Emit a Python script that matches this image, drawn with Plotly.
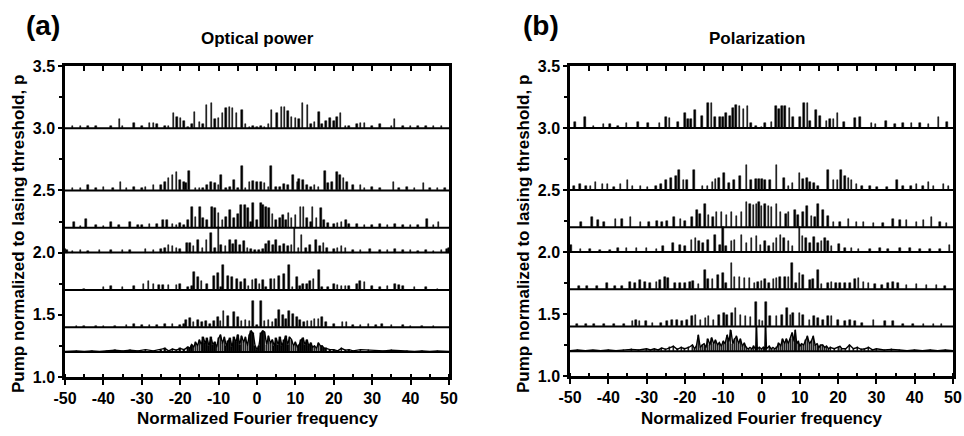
import plotly.graph_objects as go

# ---------------- data (frequency, height above baseline) ----------------
BASE_A = [1.2, 1.4, 1.7, 2.0, 2.2, 2.5, 3.0]
BASE_B = [1.2, 1.4, 1.7, 2.0, 2.2, 2.5, 3.0]

A7 = [(-48,.02),(-46,.015),(-44,.02),(-42,.015),(-38,.02),(-35.8,.07),(-35,.02),(-32,.04),(-30,.015),(-28,.04),
      (-27,.04),(-26,.03),(-24,.015),(-23,.02),(-21.7,.125),(-20.8,.09),(-19.9,.08),(-19,.06),(-18,.01),(-17,.03),
      (-16.3,.13),(-15,.05),(-14,.03),(-13.2,.19),(-11.9,.2),(-11,.07),(-10,.08),(-9,.12),(-8,.16),(-7.2,.17),
      (-6.4,.165),(-5.3,.12),(-3.9,.15),(-3,.03),(-2,.01),(-1,.02),(0,.01),(1,.02),(2,.01),(3,.03),(3.8,.15),
      (5.2,.12),(6.4,.17),(7.2,.17),(8,.14),(9,.09),(10,.08),(11,.07),(11.8,.2),(13.1,.19),(14,.03),(15,.05),
      (16.2,.13),(17,.03),(18,.06),(19,.08),(20,.06),(20.8,.09),(21.7,.125),(23,.02),(24,.015),(26,.03),(27,.04),
      (28,.04),(30,.015),(32,.03),(35,.02),(35.8,.07),(38,.02),(40,.015),(42,.015),(44,.02),(46,.015),(48,.02)]

A6 = [(-48,.02),(-46,.02),(-44,.045),(-42,.02),(-40,.03),(-37.5,.02),(-35.5,.07),(-34,.02),(-32,.03),(-30,.02),
      (-29,.03),(-27,.04),(-25,.04),(-24,.07),(-23,.1),(-22,.12),(-21,.15),(-20,.08),(-19,.07),(-18.5,.06),
      (-17.7,.157),(-16,.02),(-15,.02),(-14,.02),(-13,.04),(-12,.07),(-11,.06),(-10,.04),(-9.3,.12),(-8,.02),
      (-7,.03),(-6,.085),(-5,.02),(-3.9,.2),(-3,.02),(-2,.07),(-1,.075),(0,.07),(1,.07),(2,.06),(3,.03),(3.7,.2),
      (5,.03),(6,.03),(7,.05),(8,.04),(9.35,.12),(10.5,.07),(11,.09),(12,.08),(13,.04),(14,.03),(15,.04),(16,.03),
      (17.7,.16),(18.5,.06),(19.5,.07),(20.8,.15),(21.6,.12),(22.5,.1),(23.5,.07),(25,.04),(27,.04),(28,.02),
      (30,.03),(32,.02),(35.5,.07),(37,.02),(39,.03),(41,.02),(43.4,.06),(45,.02),(47,.02),(49,.02)]

A5 = [(-47.6,.05),(-46,.01),(-44.5,.07),(-42,.02),(-40,.01),(-38,.05),(-36,.02),(-33,.05),(-31,.02),(-30,.02),
      (-28,.03),(-26,.03),(-24.5,.065),(-23.5,.06),(-22,.03),(-21,.02),(-20,.04),(-19,.02),(-18,.065),(-16.9,.165),
      (-16,.09),(-14.9,.17),(-14,.08),(-13,.06),(-11.7,.17),(-10.9,.16),(-10,.12),(-9,.06),(-8,.09),(-7.1,.14),
      (-6,.08),(-5,.11),(-4.1,.185),(-3.2,.18),(-2.3,.16),(-1.6,.05),(-1,.195),(0,.06),(1,.195),(1.6,.18),(2.3,.17),
      (3.1,.16),(4,.11),(5,.06),(6,.08),(6.7,.1),(7.5,.06),(8.2,.12),(9,.08),(10,.1),(11.3,.165),(12.1,.17),(13,.08),
      (14,.05),(14.5,.17),(15.5,.08),(16.7,.16),(17.5,.06),(18.5,.04),(20,.03),(21,.04),(22,.05),(23.2,.065),(24,.03),
      (26,.03),(28,.02),(30,.02),(32,.03),(34,.02),(36,.03),(38,.02),(40,.02),(42,.02),(44.2,.07),(46,.02),(47.3,.05)]

A4 = [(-50,.03),(-49.5,.02),(-48,.01),(-46,.02),(-44,.01),(-41,.02),(-38,.02),(-35,.02),(-33,.02),(-29,.03),
      (-27,.02),(-25,.03),(-24,.04),(-23,.065),(-22,.05),(-21,.04),(-20,.03),(-18.3,.08),(-17.4,.08),(-16.5,.05),
      (-15.3,.1),(-14.2,.04),(-13.2,.105),(-12,.155),(-11,.04),(-10,.205),(-9.3,.06),(-8.2,.05),(-7.1,.1),(-6.2,.07),
      (-5.5,.105),(-4.5,.06),(-3.4,.09),(-2.5,.04),(-1.5,.03),(-0.5,.02),(0.5,.02),(1.5,.03),(2.3,.07),(3.2,.09),
      (4.2,.06),(5,.1),(6,.05),(7,.07),(8,.05),(9,.06),(9.8,.2),(10.8,.04),(11.6,.14),(12.8,.04),(13.8,.06),(15.4,.1),
      (16.4,.05),(17.3,.08),(18.3,.04),(20,.03),(21,.04),(22,.05),(23,.04),(25,.02),(27,.02),(29.4,.03),(32,.02),
      (34,.02),(36,.03),(38,.02),(40,.02),(42,.01),(44,.02),(46,.01),(48,.02),(49.5,.03),(50,.04)]

A3 = [(-45,.01),(-40,.02),(-38,.03),(-35,.02),(-32,.03),(-29.6,.045),(-28.3,.07),(-27,.05),(-25.5,.04),(-24.5,.04),
      (-23,.04),(-21,.04),(-20,.05),(-18,.02),(-17,.03),(-16.4,.145),(-15.4,.1),(-14.5,.07),(-13,.05),(-11.2,.11),
      (-10.1,.14),(-9.3,.02),(-8.8,.2),(-7.6,.11),(-6.5,.1),(-5.2,.09),(-4.2,.06),(-3.2,.09),(-2.2,.03),(-1.2,.08),
      (-0.3,.09),(0.6,.05),(1.5,.08),(2.4,.02),(3.6,.09),(4.6,.09),(5.8,.11),(7,.13),(8.3,.2),(9.2,.02),(10.4,.1),
      (11.2,.03),(12,.05),(13,.05),(13.8,.07),(14.7,.09),(16.1,.16),(17,.02),(18.5,.02),(20,.05),(21,.04),(22,.03),
      (23,.03),(24,.03),(26,.05),(26.8,.07),(28,.06),(30,.03),(32,.02),(34,.03),(36,.05),(37,.04),(38,.03),(41,.02),
      (44,.02),(47,.01)]

A2 = [(-47,.01),(-45,.01),(-42,.01),(-40,.01),(-37,.01),(-34,.02),(-32,.03),(-30,.02),(-28,.02),(-26,.02),
      (-24,.03),(-22,.03),(-20,.02),(-19,.03),(-18.5,.055),(-17.5,.075),(-16.5,.04),(-15.3,.06),(-14.3,.04),
      (-13.3,.05),(-12.3,.03),(-11.2,.05),(-10.2,.085),(-9.5,.05),(-8.7,.13),(-7.6,.09),(-6,.125),(-5,.08),(-4,.05),
      (-3,.06),(-2,.05),(-1.1,.21),(0,.02),(1.1,.21),(2,.05),(3,.06),(4,.04),(5,.07),(5.7,.14),(6.8,.1),(7.6,.07),
      (8.3,.13),(9.3,.11),(10.4,.08),(11.2,.06),(12.2,.04),(13.2,.05),(14.2,.05),(15,.07),(16,.07),(17,.08),(18,.04),
      (20,.03),(22.3,.04),(23.3,.04),(25,.02),(27,.02),(29,.03),(31,.02),(32.5,.03),(35,.02),(38,.02),(40,.01),
      (43,.01),(46,.01)]

A1 = [(-50,.005),(-47,.01),(-45,.005),(-43,.01),(-41,.005),(-39,.01),(-37,.015),(-35,.01),(-33,.015),(-31,.01),
      (-29,.02),(-27,.01),(-25,.02),(-24,.03),(-23,.01),(-22,.025),(-21,.015),(-20,.03),(-19,.02),(-18,.04),
      (-17.5,.03),(-17,.06),(-16.5,.04),(-16,.08),(-15.5,.05),(-15,.1),(-14.5,.06),(-14,.12),(-13.5,.07),(-13,.11),
      (-12.5,.05),(-12,.12),(-11.5,.06),(-11,.08),(-10.5,.04),(-10,.11),(-9.5,.14),(-9,.07),(-8.5,.12),(-8,.05),
      (-7.5,.09),(-7,.11),(-6.5,.04),(-6,.12),(-5.5,.08),(-5,.14),(-4.5,.06),(-4,.13),(-3.5,.08),(-3,.12),(-2.5,.05),
      (-2,.14),(-1.5,.17),(-1,.15),(-0.5,.05),(0,.02),(0.5,.05),(1,.15),(1.5,.17),(2,.16),(2.5,.06),(3,.13),(3.5,.07),
      (4,.1),(4.5,.05),(5,.11),(5.5,.06),(6,.12),(6.5,.05),(7,.1),(7.5,.13),(8,.06),(8.5,.12),(9,.1),(9.5,.05),
      (10,.08),(10.5,.04),(11,.06),(11.5,.1),(12,.11),(12.5,.06),(13,.1),(13.5,.05),(14,.07),(14.5,.04),(15,.05),
      (15.5,.03),(16,.075),(16.5,.05),(17,.05),(17.5,.03),(18,.03),(19,.02),(20,.02),(21,.01),(22,.03),(23,.015),
      (24,.02),(25,.01),(27,.02),(29,.015),(31,.01),(33,.01),(35,.015),(37,.01),(39,.01),(41,.005),(43,.01),
      (45,.005),(47,.01),(50,.005)]

B7 = [(-48.7,.05),(-46.1,.09),(-43.9,.02),(-41.3,.03),(-39.5,.03),(-37.4,.02),(-35.2,.04),(-32.2,.05),(-29.6,.04),
      (-26.6,.04),(-25,.085),(-24,.08),(-21.8,.05),(-20,.12),(-19.2,.07),(-18.4,.07),(-17.3,.145),(-15.5,.1),
      (-14,.2),(-13.1,.2),(-12.2,.085),(-10.9,.09),(-10.1,.085),(-9.2,.12),(-8.3,.1),(-7.5,.16),(-6.6,.185),
      (-5.7,.18),(-4.7,.15),(-3.7,.18),(-2.7,.04),(-1.5,.02),(0,.01),(0.9,.04),(2.6,.05),(3.8,.18),(4.6,.15),
      (5.3,.18),(6.1,.18),(7.3,.16),(8.3,.085),(10.1,.085),(11.1,.2),(12,.2),(12.7,.06),(14.2,.145),(15.3,.1),
      (17,.06),(17.9,.07),(18.8,.07),(19.8,.12),(21.5,.05),(24.4,.08),(25.7,.085),(28.7,.04),(29.8,.03),
      (32.5,.055),(34.8,.03),(37,.04),(39.2,.04),(41.4,.04),(43.6,.035),(46.2,.085),(48.5,.05)]

B6 = [(-48.9,.03),(-47.4,.05),(-45.9,.035),(-44.6,.03),(-43.3,.065),(-41.5,.05),(-40.2,.05),(-38.5,.025),
      (-36.8,.05),(-35,.08),(-33.7,.03),(-31.6,.03),(-29.8,.025),(-27.6,.03),(-26.3,.05),(-25,.08),(-23.7,.095),
      (-22.4,.11),(-21.5,.16),(-20.4,.08),(-19.5,.08),(-17.6,.165),(-15.4,.03),(-14.1,.03),(-12.8,.065),(-12,.085),
      (-11.1,.1),(-9.8,.14),(-8.5,.055),(-7.2,.08),(-5.6,.11),(-3.9,.2),(-2.8,.08),(-1.5,.085),(-0.7,.085),
      (0.1,.085),(0.9,.08),(2.2,.08),(3.9,.2),(5.9,.1),(7,.03),(8.1,.055),(9.9,.14),(10.8,.085),(11.8,.1),
      (12.7,.065),(13.7,.055),(14.8,.03),(17.4,.165),(18.8,.08),(19.8,.08),(20.7,.16),(21.8,.11),(22.7,.095),
      (23.5,.08),(24.8,.05),(26.2,.03),(28.3,.03),(30.1,.025),(32.7,.025),(35.3,.08),(37,.03),(39,.03),(40.5,.05),
      (42.1,.03),(43.6,.065),(44.9,.03),(47.5,.05),(48.8,.03)]

B5 = [(-47.2,.04),(-44.2,.08),(-42.7,.055),(-41.2,.04),(-38.1,.065),(-36.4,.065),(-34.2,.08),(-31.6,.04),
      (-29.4,.045),(-27.3,.05),(-26,.045),(-24.7,.05),(-22.9,.08),(-21.2,.07),(-19.9,.05),(-18.2,.085),(-16.9,.14),
      (-16,.11),(-14.7,.19),(-13.8,.1),(-12.7,.085),(-11.7,.125),(-10.4,.125),(-9.1,.1),(-7.8,.12),(-6.5,.09),
      (-5.2,.125),(-3.9,.2),(-3,.19),(-2.1,.18),(-1.3,.19),(-0.6,.2),(0,.17),(0.9,.19),(1.8,.17),(2.6,.16),(3.9,.19),
      (5,.125),(6.4,.11),(7,.125),(8.7,.14),(9.6,.1),(10.9,.125),(11.8,.17),(13.1,.09),(14,.085),(14.8,.19),
      (16.1,.14),(17.4,.09),(18.8,.04),(20.5,.04),(22.7,.065),(24.8,.04),(26.6,.04),(29.2,.03),(31.8,.03),
      (34.4,.065),(36.2,.06),(37.9,.06),(40.5,.04),(42.3,.055),(44.4,.08),(46.6,.04),(48.3,.035)]

B4 = [(-49.8,.055),(-47.3,.025),(-44.8,.025),(-42.2,.02),(-39.6,.02),(-37.4,.03),(-35.2,.035),(-32.6,.03),
      (-30,.03),(-27.4,.025),(-25.7,.045),(-23.1,.07),(-21.3,.055),(-20,.05),(-18.3,.1),(-17.2,.11),(-16.3,.09),
      (-15.2,.07),(-13.9,.1),(-12.2,.135),(-10.9,.06),(-10,.2),(-9.2,.045),(-7.8,.085),(-7,.1),(-5.2,.135),
      (-3.9,.07),(-2.6,.11),(-1.3,.13),(-0.3,.06),(0.9,.085),(2,.045),(3.1,.075),(3.9,.11),(5,.135),(5.9,.11),
      (7,.085),(8.1,.05),(9.9,.2),(10.7,.13),(11.6,.11),(12.7,.075),(13.7,.125),(14.8,.07),(15.7,.09),(16.6,.11),
      (17.4,.09),(18.3,.05),(20.3,.065),(21.8,.03),(23.5,.03),(25.3,.025),(28.3,.025),(30.9,.03),(33.1,.025),
      (36.2,.03),(38.8,.03),(41.4,.025),(44,.025),(46.6,.025),(49.1,.055)]

B3 = [(-47.7,.025),(-45.6,.025),(-43,.025),(-40.4,.05),(-38.3,.025),(-36.5,.025),(-34.4,.06),(-33,.05),
      (-31.7,.075),(-30.4,.06),(-29.1,.05),(-27.4,.06),(-26.5,.075),(-25.2,.1),(-24.4,.09),(-22.6,.05),(-21.3,.05),
      (-20,.05),(-18.7,.06),(-17.9,.065),(-16.5,.04),(-14.8,.155),(-14,.08),(-12.8,.08),(-11.4,.115),(-10,.13),
      (-9.2,.05),(-7.8,.21),(-7,.1),(-5.7,.1),(-4.4,.09),(-3.1,.09),(-1.8,.05),(-0.9,.06),(0,.07),(0.9,.08),(2,.05),
      (3.1,.08),(3.9,.09),(4.8,.1),(6.1,.1),(7,.1),(8,.21),(9,.05),(9.9,.13),(10.9,.115),(12.7,.075),(13.5,.08),
      (14.8,.155),(15.7,.04),(17.4,.05),(18.3,.06),(19.4,.05),(20.5,.05),(21.8,.05),(23.1,.05),(24.4,.08),
      (25.3,.09),(26.6,.06),(27.9,.05),(29.6,.04),(31.4,.03),(33.1,.05),(34.4,.06),(35.7,.05),(37.9,.03),
      (40.5,.04),(43.1,.03),(45.7,.03),(47.9,.025)]

B2 = [(-48.1,.02),(-45.9,.02),(-43.7,.02),(-41.1,.02),(-38.5,.02),(-35.9,.02),(-33.7,.04),(-32.8,.05),
      (-31.9,.045),(-30.2,.04),(-28.5,.03),(-26.3,.03),(-24.6,.045),(-23.3,.05),(-22,.055),(-20.7,.04),(-19.4,.05),
      (-18.1,.08),(-17.2,.09),(-15.9,.055),(-14.6,.065),(-13.8,.08),(-12.5,.055),(-11.1,.09),(-9.8,.11),(-9,.09),
      (-7.7,.11),(-6.8,.15),(-5.5,.09),(-4.2,.085),(-2.9,.075),(-1.4,.2),(-0.5,.05),(0.3,.04),(1.1,.2),(2.2,.08),
      (3.9,.085),(5.3,.09),(6.6,.145),(7.6,.09),(8.3,.11),(9.9,.105),(10.9,.09),(12.5,.055),(13.7,.08),(14.8,.065),
      (16.1,.055),(17.4,.085),(18.3,.08),(20,.05),(21.8,.04),(23.1,.055),(24.4,.04),(26.2,.03),(29.2,.05),
      (32.2,.04),(34.4,.04),(37,.02),(39.6,.02),(42.3,.02),(44.9,.02),(47,.02)]

B1 = [(-50,.005),(-48,.01),(-46,.005),(-44,.01),(-42,.005),(-40,.01),(-38,.005),(-36,.01),(-34,.015),(-32,.01),
      (-30,.02),(-29,.01),(-28,.02),(-27,.01),(-26,.025),(-25,.015),(-24,.03),(-23,.04),(-22,.015),(-21,.03),
      (-20,.02),(-19,.03),(-18,.05),(-17.5,.02),(-17,.04),(-16.5,.13),(-16,.03),(-15.5,.05),(-15,.06),(-14.5,.03),
      (-14,.1),(-13.5,.05),(-13,.11),(-12.5,.06),(-12,.09),(-11.5,.05),(-11,.07),(-10.5,.04),(-10,.08),(-9.5,.06),
      (-9,.13),(-8.5,.08),(-8,.17),(-7.5,.06),(-7,.1),(-6.5,.12),(-6,.06),(-5.5,.1),(-5,.04),(-4.5,.065),(-4,.03),
      (-3.5,.02),(-3,.03),(-2.5,.02),(-2,.04),(-1.5,.01),(-1.3,.2),(-1.1,.02),(-0.5,.03),(0,.02),(0.5,.03),(0.9,.02),
      (1.1,.2),(1.3,.02),(2,.04),(2.5,.02),(3,.03),(3.5,.02),(4,.03),(4.5,.065),(5,.04),(5.5,.1),(6,.06),(6.5,.1),
      (7,.06),(7.5,.1),(8,.15),(8.5,.08),(8.8,.17),(9.2,.06),(9.6,.08),(10,.04),(10.5,.06),(11,.05),(11.5,.09),
      (12,.12),(12.5,.06),(13,.08),(13.5,.12),(14,.05),(14.5,.06),(15,.03),(15.5,.05),(16,.05),(16.5,.03),(17,.04),
      (17.5,.02),(18,.03),(19,.02),(20,.03),(20.5,.04),(21,.02),(22,.02),(23,.05),(24,.02),(25,.03),(26,.015),
      (27,.02),(28,.03),(29,.01),(30,.02),(32,.01),(34,.015),(36,.01),(38,.005),(40,.01),(42,.005),(44,.01),
      (46,.005),(48,.01),(50,.005)]

STICKS_A = [A2, A3, A4, A5, A6, A7]
STICKS_B = [B2, B3, B4, B5, B6, B7]
X_TICKS = [-50, -40, -30, -20, -10, 0, 10, 20, 30, 40, 50]
X_TICK_LABELS = ["-50", "-40", "-30", "-20", "-10", "0", "10", "20", "30", "40", "50"]
Y_TICKS = [1.0, 1.5, 2.0, 2.5, 3.0, 3.5]
Y_TICK_LABELS = ["1.0", "1.5", "2.0", "2.5", "3.0", "3.5"]

FONT = "Liberation Sans"
BLACK = "#000000"

fig = go.Figure()


def add_panel(xa, ya, base, sticks, cont, fill_width):
    b0 = base[0]
    cx = [p[0] for p in cont]
    ch = [p[1] for p in cont]
    fig.add_trace(go.Bar(x=cx, y=ch, base=b0, width=fill_width,
                         marker=dict(color=BLACK, line=dict(color=BLACK, width=0.4)),
                         xaxis=xa, yaxis=ya, showlegend=False, hoverinfo="skip"))
    fig.add_trace(go.Scatter(x=cx, y=[b0 + h for h in ch], mode="lines",
                             line=dict(color=BLACK, width=1.4), xaxis=xa, yaxis=ya,
                             showlegend=False, hoverinfo="skip"))
    for b, pk in zip(base[1:], sticks):
        fig.add_trace(go.Bar(x=[p[0] for p in pk], y=[p[1] for p in pk], base=b, width=0.42,
                             marker=dict(color=BLACK, line=dict(color=BLACK, width=0.5)),
                             xaxis=xa, yaxis=ya, showlegend=False, hoverinfo="skip"))
    for b in base:
        fig.add_trace(go.Scatter(x=[-50, 50], y=[b, b], mode="lines", line=dict(color=BLACK, width=2),
                                 xaxis=xa, yaxis=ya, showlegend=False, hoverinfo="skip"))


add_panel("x", "y", BASE_A, STICKS_A, A1, 0.42)
add_panel("x2", "y2", BASE_B, STICKS_B, B1, 0.25)
fig.add_trace(go.Scatter(x=[0], y=[2], mode="markers", marker=dict(opacity=0), xaxis="x3", yaxis="y",
                         showlegend=False, hoverinfo="skip"))
fig.add_trace(go.Scatter(x=[0], y=[2], mode="markers", marker=dict(opacity=0), xaxis="x4", yaxis="y2",
                         showlegend=False, hoverinfo="skip"))

W, H = 964, 436


def px(x):
    return x / W


def py(y):
    return 1 - y / H


dom_a_x = [px(65), px(449)]
dom_b_x = [px(570), px(953)]
dom_y = [py(377), py(66)]
dom_y2 = [py(376), py(66)]

tickfont = dict(family=FONT, size=16, color=BLACK, weight="bold")


def xax(dom, anchor):
    return dict(domain=dom, anchor=anchor, range=[-50, 50], tickvals=X_TICKS, ticktext=X_TICK_LABELS,
                ticks="outside", ticklen=5, tickwidth=2, tickcolor=BLACK, showline=True, linewidth=2.5,
                linecolor=BLACK, mirror=True, showgrid=False, zeroline=False, tickfont=tickfont,
                automargin=False,
                minor=dict(dtick=5, tick0=0, ticks="inside", ticklen=3, tickwidth=2, tickcolor=BLACK,
                           showgrid=False))


def yax(dom, anchor):
    return dict(domain=dom, anchor=anchor, range=[1.0, 3.5], tickvals=Y_TICKS, ticktext=Y_TICK_LABELS,
                ticks="outside", ticklen=4, tickwidth=2, tickcolor=BLACK, showline=True, linewidth=2.5,
                linecolor=BLACK, mirror=True, showgrid=False, zeroline=False, tickfont=tickfont,
                automargin=False,
                minor=dict(dtick=0.25, tick0=1.0, ticks="outside", ticklen=3, tickwidth=2, tickcolor=BLACK,
                           showgrid=False))


def topax(dom, over, anchor):
    return dict(domain=dom, overlaying=over, anchor=anchor, side="top", range=[-50, 50], dtick=5,
                tick0=0, ticks="inside", ticklen=5, tickwidth=2, tickcolor=BLACK, showticklabels=False,
                showline=False, showgrid=False, zeroline=False, automargin=False)


fig.update_layout(
    width=W, height=H, autosize=False,
    margin=dict(l=0, r=0, t=0, b=0, pad=0, autoexpand=False),
    paper_bgcolor="white", plot_bgcolor="white",
    barmode="overlay", bargap=0,
    xaxis=xax(dom_a_x, "y"), yaxis=yax(dom_y, "x"),
    xaxis2=xax(dom_b_x, "y2"), yaxis2=yax(dom_y2, "x2"),
    xaxis3=topax(dom_a_x, "x", "y"), xaxis4=topax(dom_b_x, "x2", "y2"),
    showlegend=False,
)

ann_font_big = dict(family=FONT, size=28, color=BLACK, weight="bold")
ann_font_title = dict(family=FONT, size=17, color=BLACK, weight="bold")
ann_font_axis = dict(family=FONT, size=17, color=BLACK, weight="bold")

anns = [
    dict(text="(a)", x=px(24), y=py(25), xanchor="left", yanchor="middle", font=ann_font_big),
    dict(text="(b)", x=px(521), y=py(25), xanchor="left", yanchor="middle", font=ann_font_big),
    dict(text="Optical power", x=px(257), y=py(38), xanchor="center", yanchor="middle", font=ann_font_title),
    dict(text="Polarization", x=px(757), y=py(38), xanchor="center", yanchor="middle", font=ann_font_title),
    dict(text="Normalized Fourier frequency", x=px(257), y=py(418), xanchor="center", yanchor="middle",
         font=ann_font_axis),
    dict(text="Normalized Fourier frequency", x=px(761), y=py(418), xanchor="center", yanchor="middle",
         font=ann_font_axis),
    dict(text="Pump normalized to lasing threshold, p", x=px(18), y=py(234), xanchor="center",
         yanchor="middle", textangle=-90, font=ann_font_axis),
    dict(text="Pump normalized to lasing threshold, p", x=px(523), y=py(234), xanchor="center",
         yanchor="middle", textangle=-90, font=ann_font_axis),
]
for a in anns:
    a.update(xref="paper", yref="paper", showarrow=False)
fig.update_layout(annotations=anns)

fig.write_html("out.html", config={"displayModeBar": False},
               post_script="document.body.style.margin='0';document.body.style.overflow='hidden';")
